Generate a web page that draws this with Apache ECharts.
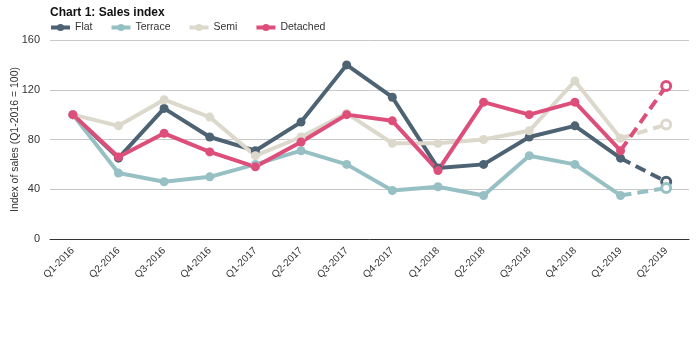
<!DOCTYPE html>
<html>
<head>
<meta charset="utf-8">
<script src="https://cdn.jsdelivr.net/npm/echarts@6/dist/echarts.min.js"></script>
<style>
  html, body { margin: 0; padding: 0; background: #fff; }
  #chart { width: 700px; height: 340px; }
</style>
</head>
<body>
<div id="chart"></div>
<script>
// Quarterly sales index by property type (Q1-2016 = 100)
const quarters = ['Q1-2016', 'Q2-2016', 'Q3-2016', 'Q4-2016', 'Q1-2017', 'Q2-2017', 'Q3-2017',
  'Q4-2017', 'Q1-2018', 'Q2-2018', 'Q3-2018', 'Q4-2018', 'Q1-2019', 'Q2-2019'];
const flat     = [100, 65, 105, 82, 71, 94, 140, 114, 57, 60, 82, 91, 65, 46];
const terrace  = [100, 53, 46, 50, 60, 71, 60, 39, 42, 35, 67, 60, 35, 41];
const semi     = [100, 91, 112, 98, 67, 82, 101, 77, 77, 80, 87, 127, 81, 92];
const detached = [100, 66, 85, 70, 58, 78, 100, 95, 55, 110, 100, 110, 71, 123];
const yTicks = [0, 40, 80, 120, 160];

// The final quarter is provisional: drawn dashed with a hollow end marker
const provisionalFrom = quarters.length - 2;

const types = [
  { name: 'Flat', values: flat, color: '#4d6272' },
  { name: 'Terrace', values: terrace, color: '#97c0c4' },
  { name: 'Semi', values: semi, color: '#dcd8cc' },
  { name: 'Detached', values: detached, color: '#dd4f7a' }
];

const series = [];
types.forEach(t => {
  series.push({
    name: t.name,
    type: 'line',
    data: t.values.map((v, i) => i <= provisionalFrom ? v : null),
    color: t.color,
    lineStyle: { width: 4, color: t.color },
    symbol: 'circle',
    symbolSize: 9,
    itemStyle: { color: t.color },
    emphasis: { disabled: true },
    z: 2
  });
  series.push({
    name: t.name,
    type: 'line',
    data: t.values.map((v, i) => i >= provisionalFrom ? v : null),
    color: t.color,
    lineStyle: { width: 4, type: [11, 6], color: t.color },
    symbol: 'circle',
    symbolSize: (v, p) => p.dataIndex === quarters.length - 1 ? 9 : 0,
    itemStyle: { color: '#fff', borderColor: t.color, borderWidth: 3 },
    emphasis: { disabled: true },
    z: 1
  });
});

const chart = echarts.init(document.getElementById('chart'), null, { renderer: 'canvas' });
chart.setOption({
  animation: false,
  textStyle: { fontFamily: 'Liberation Sans, Arial, sans-serif' },
  title: {
    text: 'Chart 1: Sales index',
    left: 45, top: 2,
    textStyle: { fontSize: 12, fontWeight: 'bold', color: '#111', fontFamily: 'Liberation Sans, Arial, sans-serif' }
  },
  legend: {
    data: types.map(t => ({
      name: t.name,
      itemStyle: { color: t.color, borderWidth: 0 },
      lineStyle: { color: t.color, width: 4, type: 'solid' }
    })),
    left: 44, top: 17,
    itemWidth: 19, itemHeight: 9, itemGap: 17,
    textStyle: { fontSize: 10.5, color: '#333' }
  },
  grid: { left: 50, right: 11, top: 40, bottom: 101, containLabel: false, outerBoundsMode: 'none' },
  xAxis: {
    type: 'category',
    data: quarters,
    boundaryGap: true,
    axisLine: { lineStyle: { color: '#333', width: 1 } },
    axisTick: { show: false },
    axisLabel: { rotate: 45, fontSize: 10, color: '#333', margin: 10, interval: 0 }
  },
  yAxis: {
    type: 'value',
    min: yTicks[0], max: yTicks[yTicks.length - 1], interval: 40,
    name: 'Index of sales (Q1-2016 = 100)',
    nameLocation: 'middle',
    nameGap: 29,
    nameMoveOverlap: false,
    nameTextStyle: { fontSize: 10.5, color: '#333' },
    axisLine: { show: false },
    axisTick: { show: false },
    axisLabel: { fontSize: 11, color: '#333', margin: 10 },
    splitLine: { lineStyle: { color: '#c8c8c8', width: 1 } }
  },
  series: series
});
</script>
</body>
</html>
